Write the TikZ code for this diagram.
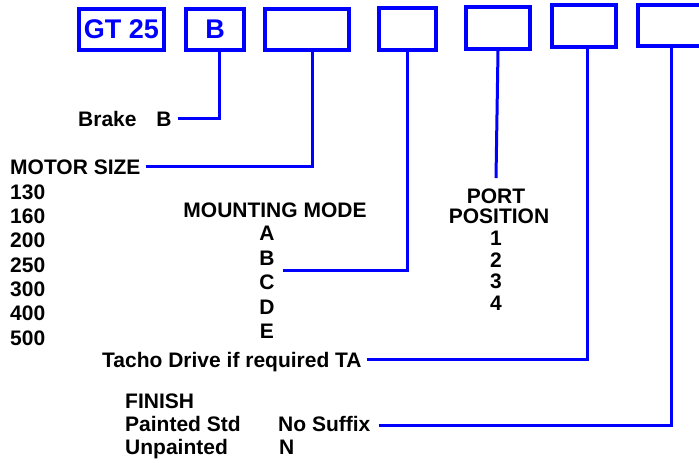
\documentclass[tikz,border=0pt]{standalone}
\usepackage{fontspec}
\setmainfont{Liberation Sans}
\definecolor{cblue}{RGB}{0,0,255}
\begin{document}
\begin{tikzpicture}[x=1pt,y=-1pt,
  codebox/.style={draw=cblue,line width=3.5pt,inner sep=0pt},
  conn/.style={draw=cblue,line width=3pt},
  lbl/.style={inner sep=0pt,anchor=base west,font=\fontsize{21}{24}\selectfont\bfseries},
  clbl/.style={inner sep=0pt,anchor=base,font=\fontsize{21}{24}\selectfont\bfseries},
  big/.style={text=cblue,font=\fontsize{27}{30}\selectfont\bfseries}]
\useasboundingbox (0,0) rectangle (699,463);
\clip (0,0) rectangle (699,463);
% code boxes
\node[codebox,minimum width=85pt,minimum height=41pt,big] (b1) at (121.5,29.5) {GT 25};
\node[codebox,minimum width=58pt,minimum height=41pt,big] (b2) at (215,29.5) {B};
\node[codebox,minimum width=84pt,minimum height=41pt] (b3) at (307,29.5) {};
\node[codebox,minimum width=57pt,minimum height=42pt] (b4) at (407.5,29) {};
\node[codebox,minimum width=64pt,minimum height=42pt] (b5) at (498,28) {};
\node[codebox,minimum width=64pt,minimum height=42pt] (b6) at (584,26) {};
\node[codebox,minimum width=66pt,minimum height=41pt] (b7) at (671,25.5) {};
% labels
\node[lbl] (brake) at (78,126) {Brake\hspace{0.95em}B};
\node[lbl] (motor) at (10,174) {MOTOR SIZE};
\node[lbl] (m130) at (10,199) {130};
\node[lbl] (m160) at (10,223) {160};
\node[lbl] (m200) at (10,247) {200};
\node[lbl] (m250) at (10,272) {250};
\node[lbl] (m300) at (10,296) {300};
\node[lbl] (m400) at (10,320) {400};
\node[lbl] (m500) at (10,345) {500};
\node[clbl] (mount) at (275,217) {MOUNTING MODE};
\node[clbl] (mA) at (267,240) {A};
\node[clbl] (mB) at (267,265) {B};
\node[clbl] (mC) at (267,289) {C};
\node[clbl] (mD) at (267,314) {D};
\node[clbl] (mE) at (267,338) {E};
\node[clbl] (port) at (496,203) {PORT};
\node[clbl] (pos) at (499,223) {POSITION};
\node[clbl] (p1) at (496,245) {1};
\node[clbl] (p2) at (496,267) {2};
\node[clbl] (p3) at (496,288) {3};
\node[clbl] (p4) at (496,310) {4};
\node[lbl] (tacho) at (102,367) {Tacho Drive if required TA};
\node[lbl] (finish) at (125,408) {FINISH};
\node[lbl] (painted) at (125,431) {Painted Std};
\node[lbl] (nosuf) at (278,431) {No Suffix};
\node[lbl] (unpainted) at (125,454) {Unpainted};
\node[lbl] (nn) at (279,454) {N};
% connectors
\coordinate (mstart) at (283,270);
\draw[conn] ([shift={(6pt,7.3pt)}]brake.base east) -| ([xshift=4pt]b2.south);
\draw[conn] ([shift={(5pt,7.3pt)}]motor.base east) -| ([xshift=5pt]b3.south);
\draw[conn] (mstart) -| (b4.south);
\draw[conn] (b5.south) -- ([yshift=10pt]port.north);
\draw[conn] ([shift={(5pt,7.3pt)}]tacho.base east) -| ([xshift=3pt]b6.south);
\draw[conn] ([shift={(8pt,6pt)}]nosuf.base east) -| (b7.south);
\end{tikzpicture}
\end{document}
